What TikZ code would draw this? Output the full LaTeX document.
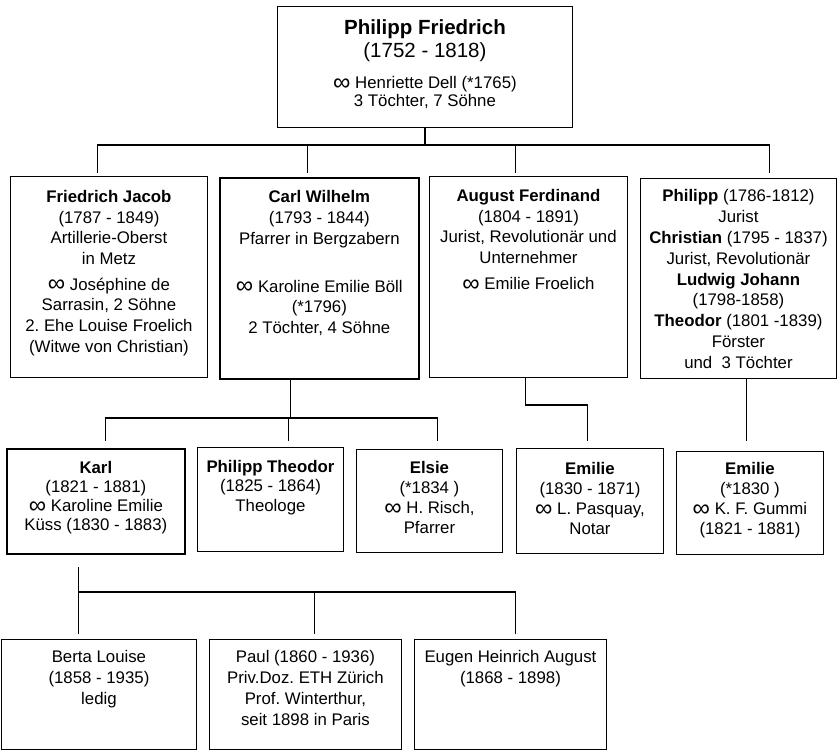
\documentclass[tikz,border=0pt]{standalone}
\usepackage{fontspec}
\usepackage{graphicx}
\setmainfont{Liberation Sans}
\newcommand\infsym{\raisebox{-1.6pt}{\scalebox{1.45}{∞}}}
\frenchspacing
\newcommand\cbox[5]{\parbox[c][#2][t]{#1}{\lineskiplimit=-100pt\fontsize{16.8}{#4}\selectfont\centering\vspace*{#3}\rule{0pt}{13pt}\ignorespaces#5\par}}
\begin{document}
\begin{tikzpicture}[x=1pt,y=-1pt,
  box/.style={draw, line width=0.9pt, inner sep=0pt, anchor=north west},
  heavybox/.style={box, line width=1.7pt},
  conn/.style={line width=1.2pt}]
\useasboundingbox (0,0) rectangle (837,751);
% top
\node[box] (P) at (277,6) {\parbox[c][121pt][t]{295pt}{\lineskiplimit=-100pt\fontsize{16.8}{18}\selectfont\centering\vspace*{12.4pt}\rule{0pt}{16pt}{\fontsize{20.5}{18}\selectfont\bfseries Philipp Friedrich}\\[5pt]{\fontsize{20.5}{18}\selectfont (1752 - 1818)}\\[12.6pt]\infsym\ Henriette Dell (*1765)\\3 Töchter, 7 Söhne\par}};
% row 2
\node[box] (FJ) at (10,176) {\cbox{197pt}{201pt}{13pt}{20.7pt}{\textbf{Friedrich Jacob}\\(1787 - 1849)\\Artillerie-Oberst\\in Metz\\[5pt]\infsym\ Joséphine de\\Sarrasin, 2 Söhne\\2. Ehe Louise Froelich\\(Witwe von Christian)}};
\node[heavybox] (CW) at (219,177) {\cbox{199pt}{201pt}{12pt}{20.7pt}{\textbf{Carl Wilhelm}\\(1793 - 1844)\\Pfarrer in Bergzabern\\[27.3pt]\infsym\ Karoline Emilie Böll\\(*1796)\\2 Töchter, 4 Söhne}};
\node[box] (AF) at (429,176) {\cbox{198pt}{201pt}{12pt}{20.7pt}{\textbf{August Ferdinand}\\(1804 - 1891)\\Jurist, Revolutionär und\\Unternehmer\\[5.5pt]\infsym\ Emilie Froelich}};
\node[box] (PH) at (640,178) {\cbox{196pt}{200pt}{10pt}{20.9pt}{\textbf{Philipp} (1786-1812)\\Jurist\\\textbf{Christian} (1795 - 1837)\\Jurist, Revolutionär\\\textbf{Ludwig Johann}\\(1798-1858)\\\textbf{Theodor} (1801 -1839)\\Förster\\und~ 3 Töchter}};
% row 3
\node[heavybox] (KA) at (6,448) {\cbox{178pt}{105pt}{12pt}{19pt}{\textbf{Karl}\\(1821 - 1881)\\\infsym\ Karoline Emilie\\Küss (1830 - 1883)}};
\node[box] (PT) at (197,447) {\cbox{146pt}{104pt}{12pt}{19.5pt}{\textbf{Philipp Theodor}\\(1825 - 1864)\\Theologe}};
\node[box] (EL) at (356,449) {\cbox{146pt}{103pt}{11pt}{20pt}{\textbf{Elsie}\\(*1834 )\\\infsym\ H. Risch,\\Pfarrer}};
\node[box] (EM1) at (516,448) {\cbox{147pt}{105pt}{13pt}{20pt}{\textbf{Emilie}\\(1830 - 1871)\\\infsym\ L. Pasquay,\\Notar}};
\node[box] (EM2) at (676,451) {\cbox{147pt}{103pt}{10pt}{20pt}{\textbf{Emilie}\\(*1830 )\\\infsym\ K. F. Gummi\\(1821 - 1881)}};
% row 4
\node[box] (BL) at (1,639) {\cbox{195pt}{110pt}{10pt}{21pt}{Berta Louise\\(1858 - 1935)\\ledig}};
\node[box] (PA) at (209,639) {\cbox{192pt}{110pt}{10pt}{21pt}{Paul (1860 - 1936)\\Priv.Doz. ETH Zürich\\Prof. Winterthur,\\seit 1898 in Paris}};
\node[box] (EU) at (414,639) {\cbox{192pt}{110pt}{10pt}{21pt}{Eugen Heinrich August\\(1868 - 1898)}};
% bus levels
\coordinate (b1) at (0,145);
\coordinate (b1e) at (0,173);
\coordinate (b2) at (0,418);
\coordinate (b3) at (0,405);
\coordinate (b2e) at (0,441);
\coordinate (b4s) at (0,567);
\coordinate (b4) at (0,592);
\coordinate (b4e) at (0,634);
% connectors generation 1
\draw[conn] (P.south) -- (P.south |- b1);
\draw[conn] ([xshift=-11.5pt]FJ.north |- b1e) |- ([xshift=31pt]PH.north |- b1) -- ([xshift=31pt]PH.north |- b1e);
\draw[conn] ([xshift=-11.5pt]CW.north |- b1) -- ([xshift=-11.5pt]CW.north |- b1e);
\draw[conn] ([xshift=-13pt]AF.north |- b1) -- ([xshift=-13pt]AF.north |- b1e);
% generation 2
\draw[conn] ([xshift=-28.5pt]CW.south) -- ([xshift=-28.5pt]CW.south |- b2);
\draw[conn] ([xshift=10pt]KA.north |- b2e) |- ([xshift=8pt]EL.north |- b2) -- ([xshift=8pt]EL.north |- b2e);
\draw[conn] ([xshift=18pt]PT.north |- b2) -- ([xshift=18pt]PT.north |- b2e);
\draw[conn] ([xshift=-3pt]AF.south) |- ([xshift=-2.5pt]EM1.north |- b3) -- ([xshift=-2.5pt]EM1.north |- b2e);
\draw[conn] ([xshift=8pt]PH.south) -- ([xshift=8pt]PH.south |- b2e);
% generation 3
\draw[conn] ([xshift=-17pt]KA.south |- b4s) -- ([xshift=-17pt]KA.south |- b4e);
\draw[conn] ([xshift=-17pt]KA.south |- b4) -| ([xshift=5pt]EU.north |- b4e);
\draw[conn] ([xshift=9pt]PA.north |- b4) -- ([xshift=9pt]PA.north |- b4e);
\end{tikzpicture}
\end{document}
